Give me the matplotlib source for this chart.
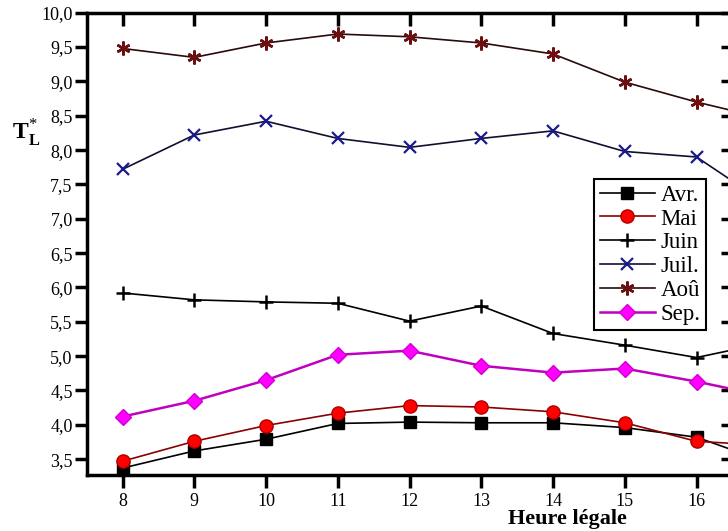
import matplotlib.pyplot as plt
from matplotlib.ticker import FuncFormatter, MultipleLocator

# Heure légale (the 17 h points sit beyond the visible right edge)
heures = [8, 9, 10, 11, 12, 13, 14, 15, 16, 17]

avr = [3.37, 3.62, 3.79, 4.02, 4.04, 4.03, 4.03, 3.96, 3.82, 3.45]
mai = [3.47, 3.76, 3.99, 4.17, 4.28, 4.26, 4.19, 4.03, 3.76, 3.70]
juin = [5.92, 5.82, 5.79, 5.77, 5.51, 5.73, 5.33, 5.16, 4.98, 5.20]
juil = [7.72, 8.22, 8.42, 8.17, 8.04, 8.17, 8.28, 7.98, 7.90, 7.20]
aou = [9.48, 9.35, 9.56, 9.69, 9.65, 9.56, 9.40, 8.99, 8.70, 8.45]
sep = [4.12, 4.35, 4.65, 5.02, 5.08, 4.86, 4.76, 4.82, 4.63, 4.41]

plt.rcParams["font.family"] = ["Liberation Serif", "DejaVu Serif"]
plt.rcParams["mathtext.fontset"] = "custom"
plt.rcParams["mathtext.rm"] = "Liberation Serif"
plt.rcParams["mathtext.bf"] = "Liberation Serif:bold"

fig = plt.figure(figsize=(7.28, 5.31), dpi=100)
# axes deliberately runs a little past the right edge, like the cropped original
ax = fig.add_axes([0.119, 0.1055, 0.888, 0.8705])

ax.plot(heures, avr, color="black", lw=1.2, marker="s", ms=9,
        mfc="black", mec="black", label="Avr.")
ax.plot(heures, mai, color="#8b0000", lw=1.2, marker="o", ms=9.5,
        mfc="red", mec="#b00000", label="Mai")
ax.plot(heures, juin, color="black", lw=1.2, marker="+", ms=10,
        mew=1.8, label="Juin")
ax.plot(heures, juil, color="#101030", lw=1.2, marker="x", ms=9,
        mew=1.6, mec="#1a1a8c", label="Juil.")
ax.plot(heures, aou, color="#2a0a0a", lw=1.2, marker=(6, 2, 0), ms=10,
        mew=1.8, mec="#6b1010", label="Aoû")
ax.plot(heures, sep, color="#c000c0", lw=1.8, marker="D", ms=8,
        mfc="magenta", mec="#d000d0", label="Sep.")

ax.set_xlim(7.5, 16.51)
ax.set_ylim(3.27, 10.0)
ax.xaxis.set_major_locator(MultipleLocator(1))
ax.yaxis.set_major_locator(MultipleLocator(0.5))
ax.yaxis.set_major_formatter(FuncFormatter(lambda v, p: f"{v:.1f}".replace(".", ",")))

for s in ax.spines.values():
    s.set_linewidth(2.5)
ax.tick_params(axis="both", direction="out", length=9, width=2.5,
               labelsize=13)
ax.tick_params(axis="x", pad=4)
ax.tick_params(axis="y", pad=1)

# inward ticks on the top and right sides
top = ax.secondary_xaxis("top")
top.xaxis.set_major_locator(MultipleLocator(1))
top.tick_params(direction="in", length=9, width=2.5, labeltop=False)
right = ax.secondary_yaxis("right")
right.yaxis.set_major_locator(MultipleLocator(0.5))
right.tick_params(direction="in", length=9, width=2.5, labelright=False)

fig.text(0.016, 0.75, r"$\mathbf{T}_{\mathbf{L}}^{*}$", fontsize=17,
         ha="left", va="center")
fig.text(0.779, 0.003, "Heure légale", fontsize=16, fontweight="bold",
         ha="center", va="bottom")

leg = ax.legend(loc="upper left", bbox_to_anchor=(0.816, 0.663),
                bbox_transform=fig.transFigure, borderaxespad=0,
                fancybox=False, framealpha=1, edgecolor="black",
                fontsize=16.5, handlelength=2.4, handletextpad=0.25,
                labelspacing=0.12, borderpad=0.25)
leg.get_frame().set_linewidth(1.5)

fig.savefig("out.png", dpi=100)
